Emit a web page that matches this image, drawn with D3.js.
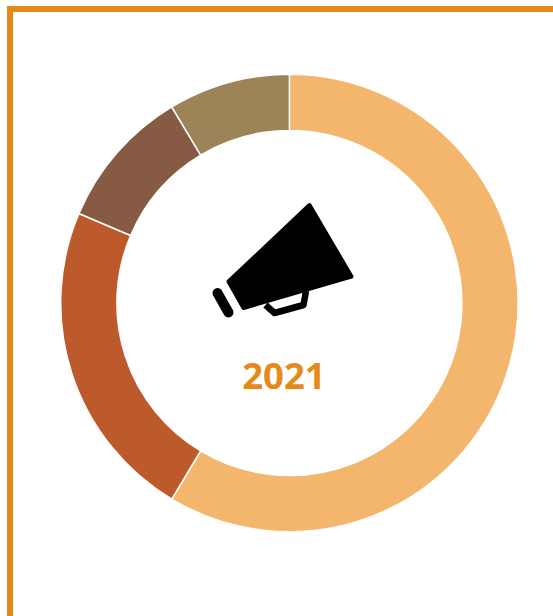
<!DOCTYPE html>
<html><head><meta charset="utf-8">
<script src="https://cdn.jsdelivr.net/npm/d3@7"></script>
<style>html,body{margin:0;padding:0;background:#fff;overflow:hidden}svg{display:block}</style>
</head><body><script>
const categories = ["A", "B", "C", "D"];
const seriesValues = [58.6, 22.8, 10.0, 8.6];
const sliceColors = ["#F4B66C", "#BD5A2C", "#875A43", "#9C8358"];
const yearLabel = "2021";

const svg = d3.select("body").append("svg").attr("width", 553).attr("height", 616);
svg.append("path").attr("d", "M10,616V9H553").attr("fill", "none")
   .attr("stroke", "#E58A1A").attr("stroke-width", 6);

const pie = d3.pie().sort(null).value((d, i) => seriesValues[i]);
const arc = d3.arc().innerRadius(172.5).outerRadius(228.7);
svg.append("g").attr("transform", "translate(289.4,303)")
  .selectAll("path").data(pie(categories)).join("path")
  .attr("d", arc).attr("fill", (d, i) => sliceColors[i])
  .attr("stroke", "#fff").attr("stroke-width", 1.5);

const icon = svg.append("g");
icon.append("path").attr("fill", "#000").attr("stroke", "#000").attr("stroke-width", 4).attr("stroke-linejoin", "round")
  .attr("d", "M228.5,281.5L309.5,205L351.5,276.5L243.5,308Z");
icon.append("path").attr("fill", "none").attr("stroke", "#000").attr("stroke-width", 6.5).attr("stroke-linejoin", "round")
  .attr("d", "M265.5,305L274.5,313L303.5,305L306,291");
icon.append("line").attr("x1", 217.5).attr("y1", 293).attr("x2", 228.5).attr("y2", 312.5)
  .attr("stroke", "#000").attr("stroke-width", 10).attr("stroke-linecap", "round");

svg.append("text").attr("x", 284).attr("y", 389).attr("text-anchor", "middle")
  .attr("font-family", "'Open Sans', sans-serif").attr("font-weight", 700).attr("font-size", 36.5)
  .attr("fill", "#E58A1A").text(yearLabel);
</script></body></html>
